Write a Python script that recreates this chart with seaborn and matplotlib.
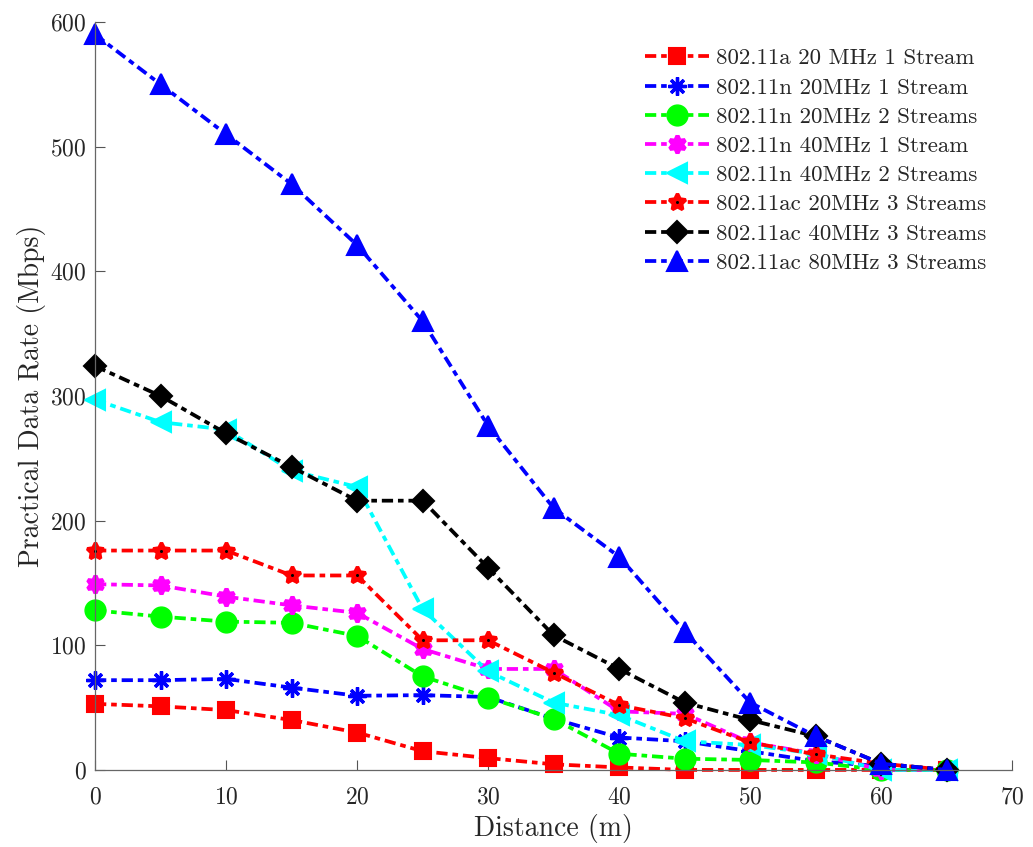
import pandas as pd
import matplotlib.pyplot as plt
import seaborn as sns

# data
distance = [0, 5, 10, 15, 20, 25, 30, 35, 40, 45, 50, 55, 60, 65]
a20_1s = [53, 51, 48, 40, 30, 15, 9.5, 4.5, 2, 0, 0, 0, 0, 0]
n20_1s = [72, 72, 73, 66, 59.5, 60, 58.5, 41, 26, 23, 15, 7, 3, 0]
n20_2s = [128, 123, 119, 118, 107.5, 75, 58, 41, 13, 9, 8, 6, 0, 0]
n40_1s = [149, 148, 139, 132, 126, 97, 81, 81, 47, 45, 22, 13, 0, 0]
n40_2s = [297, 279, 273, 240, 227, 129, 79, 54, 44, 23, 20, 13, 0, 0]
ac20_3s = [176, 176, 176, 156, 156, 104, 104, 78, 52, 41.5, 22, 12.5, 5, 0]
ac40_3s = [324, 300, 270, 243, 216, 216, 162, 108, 81, 54, 40, 27, 5, 0]
ac80_3s = [590, 550, 510, 470, 421, 360, 276, 210, 171, 111, 54, 27, 5, 0]

labels = ["802.11a 20 MHz 1 Stream", "802.11n 20MHz 1 Stream",
          "802.11n 20MHz 2 Streams", "802.11n 40MHz 1 Stream",
          "802.11n 40MHz 2 Streams", "802.11ac 20MHz 3 Streams",
          "802.11ac 40MHz 3 Streams", "802.11ac 80MHz 3 Streams"]
series = [a20_1s, n20_1s, n20_2s, n40_1s, n40_2s, ac20_3s, ac40_3s, ac80_3s]

# style per series: color, marker, markersize, edge width
styles = [
    ("#ff0000", "s", 12, 1.5),
    ("#0000ff", (8, 2, 0), 13, 2.4),
    ("#00ff00", "o", 15, 1.0),
    ("#ff00ff", (6, 1, 0), 12.5, 3.0),
    ("#00ffff", "<", 14.5, 1.5),
    ("#ff0000", (5, 1, 0), 12.5, 2.5),
    ("#000000", "D", 11.5, 1.5),
    ("#0000ff", "^", 14.5, 1.5),
]

sns.set_style("ticks")
plt.rcParams["font.family"] = ["cmr10", "DejaVu Sans"]
plt.rcParams["axes.formatter.use_mathtext"] = True
plt.rcParams["mathtext.fontset"] = "cm"

fig = plt.figure(figsize=(10.33, 8.47), dpi=100)
ax = fig.add_axes([0.092, 0.091, 0.888, 0.883])

dashdot = (0, (3.0, 1.3, 1.5, 1.3))
handles = []
for lab, vals, (col, mk, ms, mew) in zip(labels, series, styles):
    df = pd.DataFrame({"d": distance, "r": vals})
    sns.lineplot(data=df, x="d", y="r", ax=ax, color=col, marker=mk,
                 markersize=ms, markeredgecolor=col, markerfacecolor=col,
                 markeredgewidth=mew, linewidth=2.7, linestyle=dashdot,
                 estimator=None, sort=False, clip_on=False, label=lab,
                 legend=False, dash_capstyle="butt",
                 solid_joinstyle="round")
    line = ax.get_lines()[-1]
    line.set_markeredgecolor(col)
    line.set_markerfacecolor(col)
    line.set_markeredgewidth(mew)
    line.set_markersize(ms)
    if lab == "802.11ac 20MHz 3 Streams":
        sns.lineplot(data=df, x="d", y="r", ax=ax, color="black", marker="o",
                     markersize=2.2, markeredgewidth=0, linestyle="none",
                     estimator=None, sort=False, clip_on=False, legend=False)
        dot = ax.get_lines()[-1]
        dot.set_markerfacecolor("black")
        dot.set_linestyle("none")
        handles.append((line, dot))
    else:
        handles.append(line)

ax.set_xlim(0, 70)
ax.set_ylim(0, 600)
ax.set_xticks(range(0, 71, 10))
ax.set_yticks(range(0, 601, 100))
ax.tick_params(direction="in", length=7, width=0.8, color="#555555",
               labelsize=17, labelcolor="#262626")
ax.tick_params(axis="x", pad=12)
ax.tick_params(axis="y", pad=6)
sns.despine(ax=ax)
for s in ["left", "bottom"]:
    ax.spines[s].set_color("#666666")
    ax.spines[s].set_linewidth(0.9)

ax.set_xlabel("Distance (m)", fontsize=20, color="#262626", labelpad=4)
ax.set_ylabel("Practical Data Rate (Mbps)", fontsize=20, color="#262626",
              labelpad=3)

ax.legend(handles, labels, loc="upper left", bbox_to_anchor=(0.624, 0.943),
          bbox_transform=fig.transFigure, frameon=False, fontsize=16.5,
          handlelength=2.8, handletextpad=0.3, labelspacing=0.4,
          borderpad=0, borderaxespad=0)

plt.savefig("out.png", dpi=100)
